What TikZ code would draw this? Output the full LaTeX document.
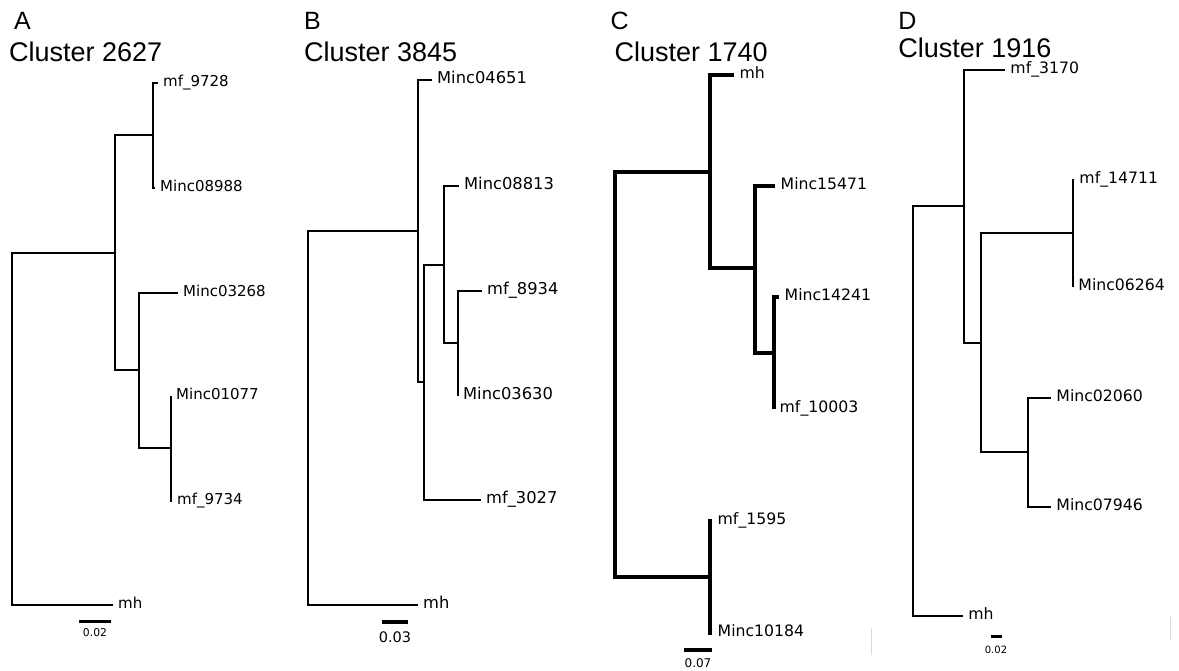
\documentclass[tikz,border=0pt]{standalone}
\usepackage{fontspec}
\setmainfont{DejaVu Sans}
\newfontfamily\titlefont{Liberation Sans}
\begin{document}
\begin{tikzpicture}[x=1pt,y=-1pt,
  leaf/.style={anchor=west,inner xsep=4pt,inner ysep=0pt,text height=0.73em,text depth=0pt},
  tag/.style={anchor=base west,inner sep=0pt,font=\titlefont\fontsize{25}{28}\selectfont},
  ttl/.style={anchor=base west,inner sep=0pt,font=\titlefont\fontsize{27}{30}\selectfont},
  scl/.style={inner sep=0pt}]
\useasboundingbox (0,0) rectangle (1179,671);

% A
\begin{scope}[line width=2.3pt,leaf/.append style={font=\fontsize{15}{18}\selectfont}]
   \node[tag] at (13,30) (tA) {A};
   \node[ttl] at (8,62) (cA) {Cluster 2627};

   \coordinate (A0) at (12,429);
   \coordinate (A1) at (115,253);
   \coordinate (A2) at (153,135);
   \coordinate (A3) at (139,370);
   \coordinate (A4) at (171,448);
   \node[leaf] at (158,83)  (a9728)  {mf\_9728};
   \node[leaf] at (155,188) (a08988) {Minc08988};
   \node[leaf] at (178,293) (a03268) {Minc03268};
   \node[leaf] at (171,396) (a01077) {Minc01077};
   \node[leaf] at (172,501) (a9734)  {mf\_9734};
   \node[leaf] at (113,605) (amh)    {mh};

   \draw (A0) |- (A1);
   \draw (A0) |- (amh.west);
   \draw (A1) |- (A2);
   \draw (A1) |- (A3);
   \draw (A2) |- (a9728.west);
   \draw (A2) |- (a08988.west);
   \draw (A3) |- (a03268.west);
   \draw (A3) |- (A4);
   \draw (A4) |- (a01077.west);
   \draw (A4) |- (a9734.west);

   \coordinate (As1) at (79,621);
   \coordinate (As2) at (111,621);
   \draw[line width=3pt] (As1) -- (As2);
   \node[scl,font=\fontsize{10.8}{12}\selectfont] at (95,633) (sA) {0.02};
\end{scope}

% B
\begin{scope}[line width=2.3pt,leaf/.append style={font=\fontsize{16.3}{19}\selectfont}]
   \node[tag] at (303,30) (tB) {B};
   \node[ttl] at (303,62) (cB) {Cluster 3845};

   \coordinate (B0) at (308,418);
   \coordinate (B1) at (418,231);
   \coordinate (B2) at (424,382);
   \coordinate (B3) at (444,265);
   \coordinate (B4) at (458,343);
   \node[leaf] at (432,80)  (b04651) {Minc04651};
   \node[leaf] at (459,186) (b08813) {Minc08813};
   \node[leaf] at (482,291) (b8934)  {mf\_8934};
   \node[leaf] at (458,396) (b03630) {Minc03630};
   \node[leaf] at (481,500) (b3027)  {mf\_3027};
   \node[leaf] at (418,605) (bmh)    {mh};

   \draw (B0) |- (B1);
   \draw (B0) |- (bmh.west);
   \draw (B1) |- (b04651.west);
   \draw (B1) |- (B2);
   \draw (B2) |- (B3);
   \draw (B2) |- (b3027.west);
   \draw (B3) |- (b08813.west);
   \draw (B3) |- (B4);
   \draw (B4) |- (b8934.west);
   \draw (B4) |- (b03630.west);

   \coordinate (Bs1) at (382,622);
   \coordinate (Bs2) at (408,622);
   \draw[line width=3.2pt] (Bs1) -- (Bs2);
   \node[scl,font=\fontsize{14.5}{17}\selectfont] at (395,637) (sB) {0.03};
\end{scope}

% C
\begin{scope}[line width=3.4pt,leaf/.append style={font=\fontsize{15.7}{18}\selectfont}]
   \node[tag] at (609,30) (tC) {C};
   \node[ttl] at (613,62) (cC) {Cluster 1740};

   \coordinate (C0) at (615,374);
   \coordinate (C1) at (710,172);
   \coordinate (C2) at (755,268);
   \coordinate (C3) at (774,353);
   \coordinate (C4) at (710,577);
   \node[leaf] at (734,75)  (cmh)    {mh};
   \node[leaf] at (775,186) (c15471) {Minc15471};
   \node[leaf] at (779,297) (c14241) {Minc14241};
   \node[leaf] at (774,409) (c10003) {mf\_10003};
   \node[leaf] at (712,521) (c1595)  {mf\_1595};
   \node[leaf] at (712,633) (c10184) {Minc10184};

   \draw (C0) |- (C1);
   \draw (C0) |- (C4);
   \draw (C1) |- (cmh.west);
   \draw (C1) |- (C2);
   \draw (C2) |- (c15471.west);
   \draw (C2) |- (C3);
   \draw (C3) |- (c14241.west);
   \draw (C3) |- (c10003.west);
   \draw (C4) |- (c1595.west);
   \draw (C4) |- (c10184.west);

   \coordinate (Cs1) at (684,650);
   \coordinate (Cs2) at (712,650);
   \draw[line width=3.4pt] (Cs1) -- (Cs2);
   \node[scl,font=\fontsize{12}{14}\selectfont] at (698,663) (sC) {0.07};
\end{scope}

% D
\begin{scope}[line width=2.9pt,leaf/.append style={font=\fontsize{15.7}{18}\selectfont}]
   \node[tag] at (897,30) (tD) {D};
   \node[ttl] at (897,58) (cD) {Cluster 1916};

   \coordinate (D0) at (913,411);
   \coordinate (D1) at (964,206);
   \coordinate (D2) at (981,343);
   \coordinate (D3) at (1073,233);
   \coordinate (D4) at (1028,452);
   \node[leaf] at (1005,70)  (d3170)  {mf\_3170};
   \node[leaf] at (1074,180) (d14711) {mf\_14711};
   \node[leaf] at (1073,287) (d06264) {Minc06264};
   \node[leaf] at (1051,398) (d02060) {Minc02060};
   \node[leaf] at (1051,507) (d07946) {Minc07946};
   \node[leaf] at (963,616)  (dmh)    {mh};

   \draw (D0) |- (D1);
   \draw (D0) |- (dmh.west);
   \draw (D1) |- (d3170.west);
   \draw (D1) |- (D2);
   \draw (D2) |- (D3);
   \draw (D2) |- (D4);
   \draw (D3) |- (d14711.west);
   \draw (D3) |- (d06264.west);
   \draw (D4) |- (d02060.west);
   \draw (D4) |- (d07946.west);

   \coordinate (Ds1) at (991,636);
   \coordinate (Ds2) at (1002,636);
   \draw[line width=3pt] (Ds1) -- (Ds2);
   \node[scl,font=\fontsize{10}{12}\selectfont] at (996,650) (sD) {0.02};
\end{scope}

% faint marks at the right edges
\draw[gray!30,line width=1pt] (871,628) -- (871,655);
\draw[gray!30,line width=1pt] (1170,617) -- (1170,640);

\end{tikzpicture}
\end{document}
